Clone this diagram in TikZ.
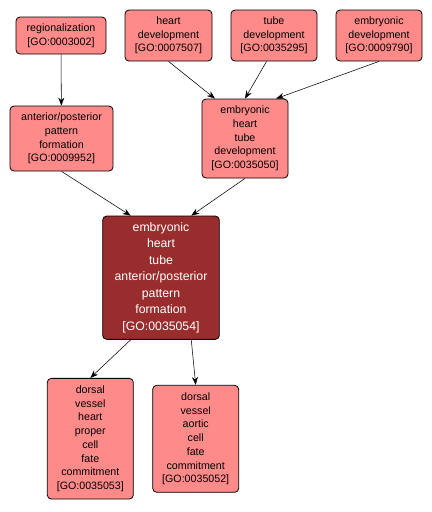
\documentclass[tikz,border=0pt]{standalone}
\usepackage{fontspec}
\setmainfont{Liberation Sans}
\usepackage{tikz}
\usetikzlibrary{shapes, arrows.meta, positioning}
\definecolor{goSalmon}{RGB}{255,138,138}
\definecolor{goFocus}{RGB}{153,45,45}

\begin{document}
\begin{tikzpicture}
[x=0.75pt, y=-0.75pt,
GoNode/.style={rectangle, rounded corners=3pt, draw=black, line width=0.6pt,
inner sep=0pt, align=center, fill=goSalmon, font=\fontsize{8}{10.3}\selectfont},
FocusNode/.style={GoNode, fill=goFocus, text=white, font=\fontsize{9.2}{12.4}\selectfont},
>={Stealth[length=6pt, width=4.5pt]}
]
\useasboundingbox (0,0) rectangle (432,512);

\node[GoNode, minimum width=67.5pt, minimum height=27.75pt] (Regionalization) at (61,35.5)
  {regionalization\\{[GO:0003002]}};
\node[GoNode, minimum width=65.25pt, minimum height=38.25pt] (HeartDev) at (168.5,35.5)
  {heart\\development\\{[GO:0007507]}};
\node[GoNode, minimum width=64.5pt, minimum height=38.25pt] (TubeDev) at (274,35.5)
  {tube\\development\\{[GO:0035295]}};
\node[GoNode, minimum width=64.5pt, minimum height=38.25pt] (EmbryonicDev) at (379,35.5)
  {embryonic\\development\\{[GO:0009790]}};
\node[GoNode, minimum width=77.25pt, minimum height=48.75pt] (APFormation) at (61.5,138.5)
  {anterior/posterior\\pattern\\formation\\{[GO:0009952]}};
\node[GoNode, minimum width=64.5pt, minimum height=59.25pt] (HeartTubeDev) at (245,138.5)
  {embryonic\\heart\\tube\\development\\{[GO:0035050]}};
\node[FocusNode, minimum width=87.5pt, minimum height=92.5pt] (HeartTubeAP) at (161,277.7)
  {embryonic\\heart\\tube\\anterior/posterior\\pattern\\formation\\{[GO:0035054]}};
\node[GoNode, minimum width=64.5pt, minimum height=90.5pt] (HeartProper) at (90.3,438.7)
  {dorsal\\vessel\\heart\\proper\\cell\\fate\\commitment\\{[GO:0035053]}};
\node[GoNode, minimum width=64.5pt, minimum height=80.25pt] (Aortic) at (195.7,438.8)
  {dorsal\\vessel\\aortic\\cell\\fate\\commitment\\{[GO:0035052]}};

\draw[->] (Regionalization) -- (APFormation);
\draw[->] (HeartDev.south) -- (HeartTubeDev.127);
\draw[->] (TubeDev.254) -- (HeartTubeDev.north);
\draw[->] (EmbryonicDev.south) -- (HeartTubeDev.52);
\draw[->] (APFormation.south) -- (HeartTubeAP.116);
\draw[->] (HeartTubeDev.south) -- (HeartTubeAP.64);
\draw[->] (HeartTubeAP.244) -- (HeartProper.north);
\draw[->] (HeartTubeAP.296) -- (Aortic.north);
\end{tikzpicture}
\end{document}
